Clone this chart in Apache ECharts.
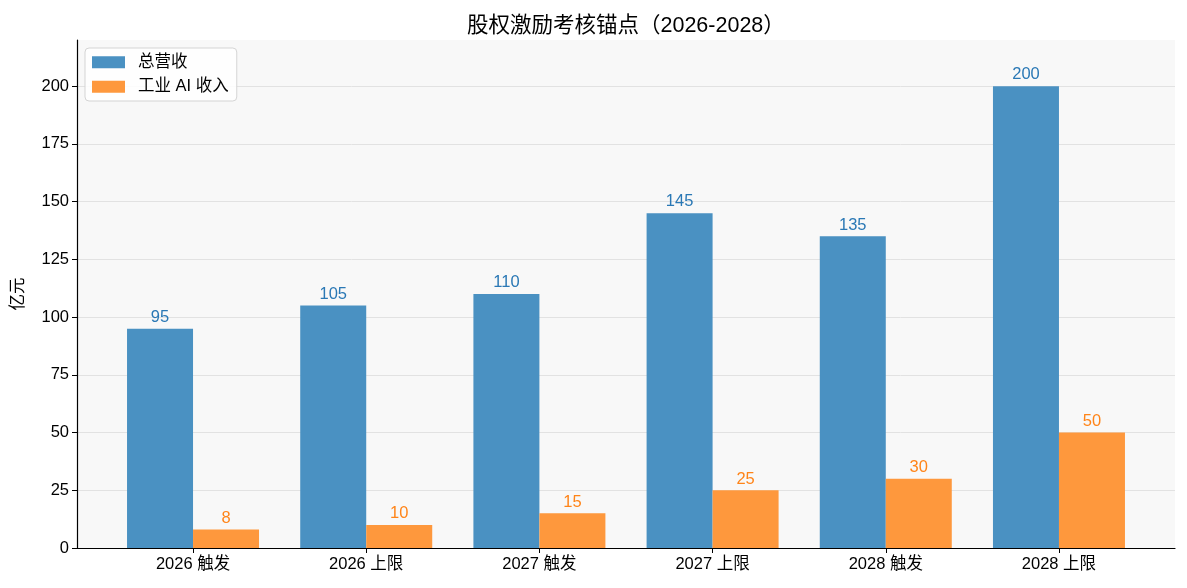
<!DOCTYPE html>
<html>
<head>
<meta charset="utf-8">
<script src="https://cdn.jsdelivr.net/npm/echarts@6/dist/echarts.min.js"></script>
<style>html,body{margin:0;padding:0;background:#fff}#c{width:1187px;height:588px}</style>
</head>
<body>
<div id="c"></div>
<script>
const categories = ['2026 触发', '2026 上限', '2027 触发', '2027 上限', '2028 触发', '2028 上限'];
const totalRevenue = [95, 105, 110, 145, 135, 200];
const aiRevenue = [8, 10, 15, 25, 30, 50];
const yTicks = [0, 25, 50, 75, 100, 125, 150, 175, 200];
const seriesNames = ['总营收', '工业 AI 收入'];

const FONT = '"Liberation Sans", "Noto Sans CJK SC", sans-serif';
const FS = 16.5;
const idx = categories.map((_, i) => i);
const chart = echarts.init(document.getElementById('c'), null, {renderer: 'canvas'});
chart.setOption({
  animation: false,
  textStyle: {fontFamily: FONT},
  title: {
    text: '股权激励考核锚点（2026-2028）',
    left: 462, top: 10,
    textStyle: {fontFamily: FONT, fontSize: 21.5, fontWeight: 'normal', color: '#000'}
  },
  legend: {
    orient: 'vertical', left: 85, top: 48,
    padding: [6, 8, 6, 7], itemGap: 8,
    itemWidth: 33, itemHeight: 12, icon: 'rect',
    backgroundColor: 'rgba(255,255,255,0.85)',
    borderColor: '#d4d4d4', borderWidth: 1, borderRadius: 4,
    textStyle: {fontFamily: FONT, fontSize: FS, color: '#000', padding: [0, 0, 0, 8]},
    data: seriesNames
  },
  grid: {left: 77, right: 12, top: 40, bottom: 40, show: true, backgroundColor: '#f8f8f8', borderWidth: 0},
  xAxis: {
    type: 'value', min: -0.67, max: 5.67,
    axisLine: {show: true, onZero: false, lineStyle: {color: '#000', width: 1.2}},
    axisTick: {show: true, customValues: idx, length: 5, lineStyle: {color: '#000'}},
    axisLabel: {customValues: idx, formatter: v => categories[Math.round(v)] || '', color: '#000', fontSize: FS, margin: 8, fontFamily: FONT},
    splitLine: {show: false}
  },
  yAxis: {
    type: 'value', min: 0, max: 220, interval: 25,
    name: '亿元', nameLocation: 'middle', nameGap: 50, nameRotate: 90,
    nameTextStyle: {fontFamily: FONT, fontSize: FS, color: '#000'},
    axisLine: {show: true, onZero: false, lineStyle: {color: '#000', width: 1.2}},
    axisTick: {show: true, customValues: yTicks, length: 5, lineStyle: {color: '#000'}},
    axisLabel: {customValues: yTicks, color: '#000', fontSize: FS, margin: 8, fontFamily: FONT},
    splitLine: {show: true, lineStyle: {color: '#e2e2e2', width: 1}}
  },
  series: [
    {
      name: seriesNames[0], type: 'bar', barWidth: 66, barGap: '0%',
      data: totalRevenue.map((v, i) => [i, v]),
      itemStyle: {color: '#4a91c2'},
      label: {show: true, position: 'top', distance: 3, color: '#2a78b5', fontSize: FS, fontFamily: FONT, formatter: p => p.value[1]}
    },
    {
      name: seriesNames[1], type: 'bar', barWidth: 66, barGap: '0%',
      data: aiRevenue.map((v, i) => [i, v]),
      itemStyle: {color: '#fe983d'},
      label: {show: true, position: 'top', distance: 3, color: '#ff8418', fontSize: FS, fontFamily: FONT, formatter: p => p.value[1]}
    }
  ]
});
</script>
</body>
</html>
